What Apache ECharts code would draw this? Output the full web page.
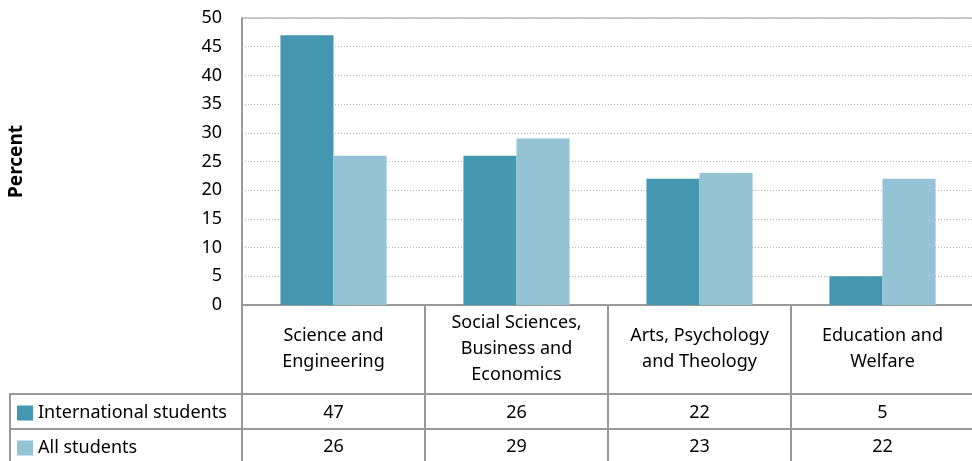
<!DOCTYPE html>
<html>
<head>
<meta charset="utf-8">
<script src="https://cdn.jsdelivr.net/npm/echarts@6/dist/echarts.min.js"></script>
<style>
	html, body { margin: 0; padding: 0; background: #fff; }
	#chart { width: 972px; height: 461px; }
</style>
</head>
<body>
<div id="chart"></div>
<script>
	// 数据
	var categories = ['Science and\nEngineering', 'Social Sciences,\nBusiness and\nEconomics', 'Arts, Psychology\nand Theology', 'Education and\nWelfare'];
	var seriesNames = ['International students', 'All students'];
	var intlValues = [47, 26, 22, 5];
	var allValues = [26, 29, 23, 22];
	var yTicks = [0, 5, 10, 15, 20, 25, 30, 35, 40, 45, 50];

	var font = 'Noto Sans';
	var lineColor = '#999';

	// 表格里的图例，每行一个
	function rowLegend(name, top) {
		return {
			left: 17,
			top: top,
			icon: 'rect',
			itemWidth: 16,
			itemHeight: 15,
			itemGap: 4,
			selectedMode: false,
			padding: 0,
			data: [name],
			textStyle: { fontFamily: font, fontSize: 18, color: '#000' }
		};
	}

	var myChart = echarts.init(document.getElementById('chart'));

	option = {
		animation: false,
		textStyle: { fontFamily: font, color: '#000' },
		grid: {
			left: 242, right: -2, top: 18, bottom: 156,
			outerBoundsMode: 'none',
			show: true, borderColor: lineColor, borderWidth: 1
		},
		legend: [rowLegend(seriesNames[0], 404), rowLegend(seriesNames[1], 439)],
		xAxis: [{
			type: 'category',
			data: categories,
			axisLine: { lineStyle: { color: lineColor, width: 2 } },
			axisTick: { show: true, length: 160, lineStyle: { color: lineColor, width: 2 } },
			axisLabel: {
				interval: 0, margin: 44, verticalAlign: 'middle',
				fontSize: 18, lineHeight: 26, color: '#000', fontFamily: font
			}
		}, {
			type: 'category',
			data: intlValues.map(String),
			position: 'bottom',
			offset: 89,
			axisLine: { lineStyle: { color: lineColor, width: 2 } },
			axisTick: { show: false },
			axisLabel: { interval: 0, margin: 10, fontSize: 18, color: '#000', fontFamily: font }
		}, {
			type: 'category',
			data: allValues.map(String),
			position: 'bottom',
			offset: 124,
			axisLine: { lineStyle: { color: lineColor, width: 2 } },
			axisTick: { show: false },
			axisLabel: { interval: 0, margin: 9, fontSize: 18, color: '#000', fontFamily: font }
		}],
		yAxis: {
			type: 'value',
			min: yTicks[0],
			max: yTicks[yTicks.length - 1],
			interval: 5,
			name: 'Percent',
			nameLocation: 'middle',
			nameGap: 216,
			nameRotate: 90,
			nameTextStyle: { fontFamily: font, fontSize: 19, fontWeight: 'bold', color: '#000' },
			axisLine: { show: true, lineStyle: { color: lineColor, width: 2 } },
			axisTick: { show: false },
			axisLabel: { margin: 20, fontSize: 18, color: '#000', fontFamily: font },
			splitLine: { lineStyle: { color: '#b0b0b0', type: [1, 2], width: 1 } }
		},
		graphic: [{
			type: 'polyline',
			shape: { points: [[242, 394], [10, 394], [10, 470]] },
			style: { stroke: lineColor, lineWidth: 2, fill: null }
		}, {
			type: 'line',
			shape: { x1: 10, y1: 429, x2: 242, y2: 429 },
			style: { stroke: lineColor, lineWidth: 2 }
		}],
		series: [{
			name: seriesNames[0],
			type: 'bar',
			data: intlValues,
			barGap: 0,
			barCategoryGap: '42%',
			itemStyle: { color: '#4397b0' }
		}, {
			name: seriesNames[1],
			type: 'bar',
			data: allValues,
			barGap: 0,
			barCategoryGap: '42%',
			itemStyle: { color: '#93c3d4' }
		}]
	};

	myChart.setOption(option);
</script>
</body>
</html>
